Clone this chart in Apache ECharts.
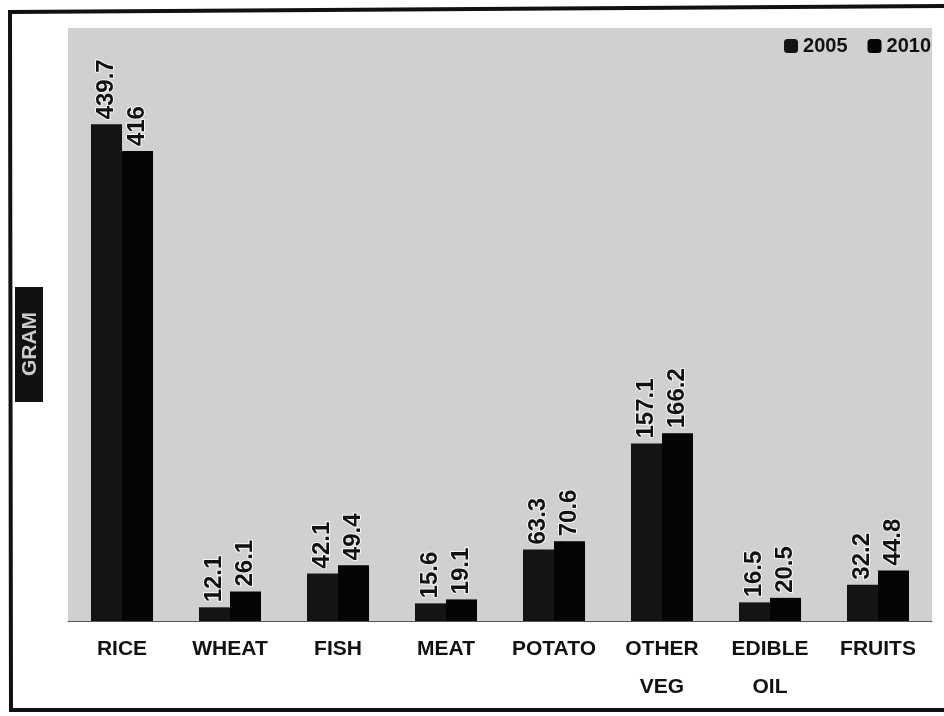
<!DOCTYPE html>
<html>
<head>
<meta charset="utf-8">
<script src="https://cdn.jsdelivr.net/npm/echarts@6/dist/echarts.min.js"></script>
<style>
    html, body { margin: 0; padding: 0; background: #fff; }
    #chart { width: 944px; height: 716px; }
</style>
</head>
<body>
<div id="chart"></div>
<script>
const categories = ["RICE", "WHEAT", "FISH", "MEAT", "POTATO", "OTHER\nVEG", "EDIBLE\nOIL", "FRUITS"];
const values2005 = [439.7, 12.1, 42.1, 15.6, 63.3, 157.1, 16.5, 32.2];
const values2010 = [416, 26.1, 49.4, 19.1, 70.6, 166.2, 20.5, 44.8];
const unitName = "GRAM";

const font = "'Liberation Sans', Arial, sans-serif";

const chart = echarts.init(document.getElementById("chart"));

function barLabel() {
    return {
        show: true,
        position: "top",
        rotate: 90,
        align: "left",
        verticalAlign: "middle",
        distance: 5,
        color: "#111",
        fontSize: 24,
        fontWeight: "bold",
        fontFamily: font,
        textBorderColor: "rgba(255,255,255,0.8)",
        textBorderWidth: 2,
    };
}

const option = {
    backgroundColor: "#fff",
    animation: false,
    graphic: [
        // scanned frame: left, top and bottom edges only
        {
            type: "polyline",
            shape: { points: [[944, 6], [10, 12], [11, 710], [944, 710]] },
            style: { fill: "none", stroke: "#111", lineWidth: 4 },
            silent: true,
        },
        {
            type: "group",
            left: 15,
            top: 287,
            children: [
                {
                    type: "rect",
                    shape: { x: 0, y: 0, width: 28, height: 115 },
                    style: { fill: "#111" },
                },
                {
                    type: "text",
                    x: 15,
                    y: 57,
                    rotation: Math.PI / 2,
                    style: {
                        text: unitName,
                        fill: "#ccc",
                        font: "bold 21px " + font,
                        align: "center",
                        verticalAlign: "middle",
                    },
                }
            ],
        }
    ],
    legend: {
        top: 31,
        right: 8,
        itemWidth: 14,
        itemHeight: 14,
        itemGap: 20,
        textStyle: {
            color: "#111",
            fontSize: 20,
            fontWeight: "bold",
            fontFamily: font,
        },
    },
    grid: {
        left: 68,
        right: 12,
        top: 28,
        bottom: 95,
        outerBoundsMode: "none",
        show: true,
        backgroundColor: "#d0d0d0",
        borderWidth: 0,
    },
    xAxis: {
        type: "category",
        data: categories,
        axisLine: { lineStyle: { color: "#555", width: 1 } },
        axisTick: { show: false },
        axisLabel: {
            color: "#111",
            fontSize: 21,
            fontWeight: "bold",
            fontFamily: font,
            lineHeight: 38,
            margin: 9,
            interval: 0,
        },
    },
    yAxis: {
        type: "value",
        min: 0,
        max: 525,
        axisLine: { show: false },
        axisTick: { show: false },
        axisLabel: { show: false },
        splitLine: { show: false },
    },
    series: [
        {
            name: "2005",
            type: "bar",
            data: values2005,
            barWidth: 31,
            barGap: "0%",
            itemStyle: { color: "#141414" },
            label: barLabel(),
        },
        {
            name: "2010",
            type: "bar",
            data: values2010,
            barWidth: 31,
            itemStyle: { color: "#050505" },
            label: barLabel(),
        }
    ],
};

chart.setOption(option);
</script>
</body>
</html>
